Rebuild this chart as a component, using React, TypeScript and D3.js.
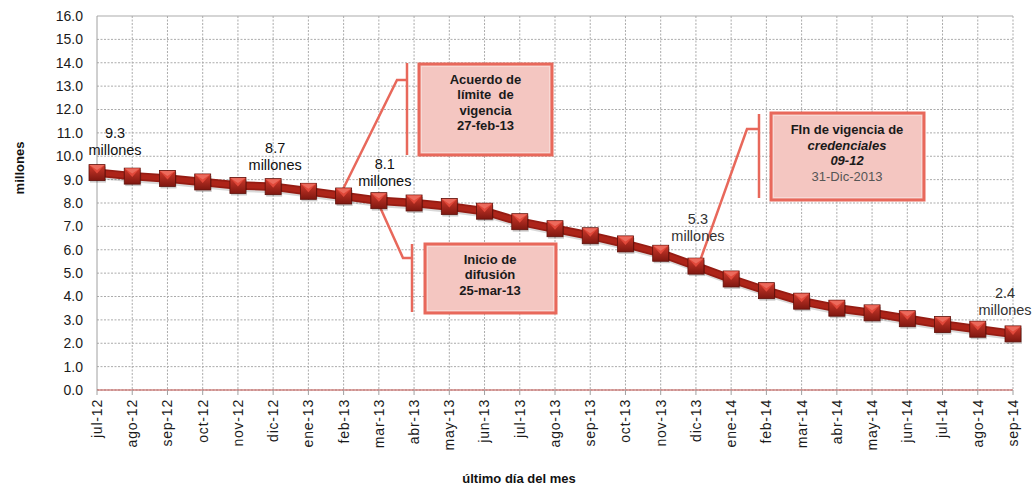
import * as d3 from 'd3';

const months = [
  'jul-12', 'ago-12', 'sep-12', 'oct-12', 'nov-12', 'dic-12', 'ene-13', 'feb-13', 'mar-13',
  'abr-13', 'may-13', 'jun-13', 'jul-13', 'ago-13', 'sep-13', 'oct-13', 'nov-13', 'dic-13',
  'ene-14', 'feb-14', 'mar-14', 'abr-14', 'may-14', 'jun-14', 'jul-14', 'ago-14', 'sep-14',
];
const values = [
  9.3, 9.15, 9.05, 8.9, 8.75, 8.7, 8.5, 8.3, 8.1,
  8.0, 7.85, 7.65, 7.2, 6.9, 6.6, 6.25, 5.85, 5.3,
  4.75, 4.25, 3.8, 3.5, 3.3, 3.05, 2.8, 2.6, 2.4,
];
const yTicks = d3.range(0, 17);
const labelledMonths = ['jul-12', 'dic-12', 'mar-13', 'dic-13', 'sep-14'];
const noteAcuerdo = ['Acuerdo de', 'límite  de', 'vigencia', '27-feb-13'];
const noteInicio = ['Inicio de', 'difusión', '25-mar-13'];
const noteFin = ['FIn de vigencia de', 'credenciales', '09-12', '31-Dic-2013'];

const W = 1034;
const H = 489;
const FONT = '"Liberation Sans", Arial, sans-serif';
const RED = '#e8685b';

// label offsets from the marker, in px
const labelOffset: Record<string, [number, number]> = {
  'jul-12': [18, -40],
  'dic-12': [2, -39],
  'mar-13': [6, -37],
  'dic-13': [2, -47],
  'sep-14': [-8, -41],
};

export default function App() {
  const x = d3.scalePoint<string>().domain(months).range([97, 1013]);
  const y = d3.scaleLinear().domain([0, 16]).range([390, 16]);
  const pts = months.map((m, i) => ({ m, v: values[i], px: x(m) as number, py: y(values[i]) }));
  const line = d3.line<typeof pts[0]>().x(d => d.px).y(d => d.py)(pts) ?? '';
  const byMonth = (m: string) => pts[months.indexOf(m)];

  const feb = byMonth('feb-13');
  const mar = byMonth('mar-13');
  const dic = byMonth('dic-13');

  return (
    <svg width={W} height={H} style={{ position: 'absolute', left: 0, top: 0, background: '#fff' }}
      fontFamily={FONT}>
      <defs>
        <linearGradient id="mk" x1="0" y1="0" x2="0" y2="1">
          <stop offset="0" stopColor="#d23a2c" />
          <stop offset="1" stopColor="#7e1710" />
        </linearGradient>
      </defs>

      {/* grid */}
      {yTicks.map(t => (
        <line key={'h' + t} x1={x(months[0])} x2={x(months[months.length - 1])} y1={y(t)} y2={y(t)}
          stroke="#ababab" strokeWidth={1} strokeDasharray={t === 16 ? undefined : '2,1.5'} />
      ))}
      {months.map((m, i) => i > 0 && (
        <line key={'v' + m} x1={x(m)} x2={x(m)} y1={y(16)} y2={y(0)}
          stroke="#ababab" strokeWidth={1} strokeDasharray="2,1.5" />
      ))}
      <line x1={x(months[0])} x2={x(months[0])} y1={y(16)} y2={y(0)} stroke="#a0a0a0" />
      <line x1={x(months[0])} x2={x(months[months.length - 1])} y1={y(0)} y2={y(0)} stroke="#c0504d" strokeWidth={1.2} />
      {months.map(m => (
        <line key={'t' + m} x1={x(m)} x2={x(m)} y1={y(0)} y2={y(0) + 5} stroke="#a0a0a0" />
      ))}

      {/* y ticks */}
      {yTicks.map(t => (
        <text key={'yl' + t} x={83} y={y(t)} dy="0.35em" textAnchor="end" fontSize={14} fill="#1a1a1a">
          {d3.format('.1f')(t)}
        </text>
      ))}
      {/* x ticks */}
      {months.map(m => (
        <text key={'xl' + m} transform={`translate(${x(m)},${y(0) + 9}) rotate(-90)`} dy="0.35em"
          textAnchor="end" fontSize={14} letterSpacing={0.8} fill="#1a1a1a">{m}</text>
      ))}

      <text transform="translate(19,168) rotate(-90)" textAnchor="middle" dy="0.35em" fontSize={13}
        fontWeight="bold" fill="#111">millones</text>
      <text x={519} y={478} dy="0.35em" textAnchor="middle" fontSize={13} fontWeight="bold" fill="#111">
        último día del mes
      </text>

      {/* callout connectors */}
      <g stroke={RED} strokeWidth={2.5} fill="none">
        <line x1={407} x2={407} y1={63} y2={155} />
        <polyline points={`${feb.px - 1},${feb.py - 6} 397,80 407,80`} />
        <line x1={412} x2={412} y1={244} y2={312} />
        <polyline points={`${mar.px + 1},${mar.py + 6} 403,258 412,258`} />
        <line x1={759} x2={759} y1={114} y2={198} />
        <polyline points={`${dic.px + 4},${dic.py - 5} 747,129 759,129`} />
      </g>

      {/* series line */}
      <path d={line} fill="none" stroke="#000" strokeOpacity={0.15} strokeWidth={8} transform="translate(1.5,2.5)" />
      <path d={line} fill="none" stroke="#951c13" strokeWidth={8.5} strokeLinejoin="round" />
      <path d={line} fill="none" stroke="#ad2419" strokeWidth={5} strokeLinejoin="round" />

      {/* markers */}
      {pts.map(p => (
        <g key={'mk' + p.m} transform={`translate(${p.px},${p.py})`}>
          <rect x={-7} y={-6} width={16} height={16} fill="#000" fillOpacity={0.2} />
          <rect x={-8} y={-8} width={16} height={16} fill="url(#mk)" stroke="#5e0f09" strokeWidth={0.8} />
          <polygon points="-7.5,-7.5 7.5,-7.5 0,1" fill="#e0483a" />
          <polygon points="-7.5,-7.5 7.5,-7.5 0,-2.5" fill="#ec6a5c" />
        </g>
      ))}

      {/* data labels */}
      {labelledMonths.map(m => {
        const p = byMonth(m);
        const [dx, dy] = labelOffset[m];
        const c = m === 'dic-13' || m === 'sep-14' ? '#333' : '#111';
        return (
          <g key={'lb' + m} fontSize={14.5} fill={c} textAnchor="middle">
            <text x={p.px + dx} y={p.py + dy} dy="0.35em">{d3.format('.1f')(p.v)}</text>
            <text x={p.px + dx} y={p.py + dy + 17} dy="0.35em">millones</text>
          </g>
        );
      })}

      {/* boxes */}
      <rect x={419} y={64} width={133} height={91} fill="#f4c6c1" stroke={RED} strokeWidth={3} />
      <rect x={421.5} y={66.5} width={128} height={86} fill="none" stroke="#f7d9d5" strokeWidth={1} />
      <g fontSize={13} fontWeight="bold" fill="#1a1a1a" textAnchor="middle">
        {noteAcuerdo.map((t, i) => (
          <text key={t} x={485.5} y={79 + i * 15.5} dy="0.35em" style={{ whiteSpace: 'pre' }}>{t}</text>
        ))}
      </g>

      <rect x={425} y={244} width={131} height={69} fill="#f4c6c1" stroke={RED} strokeWidth={3} />
      <rect x={427.5} y={246.5} width={126} height={64} fill="none" stroke="#f7d9d5" strokeWidth={1} />
      <g fontSize={13} fontWeight="bold" fill="#1a1a1a" textAnchor="middle">
        {noteInicio.map((t, i) => (
          <text key={t} x={490} y={259 + i * 15.5} dy="0.35em">{t}</text>
        ))}
      </g>

      <rect x={771} y={113} width={153} height={87} fill="#f4c6c1" stroke={RED} strokeWidth={3} />
      <rect x={773.5} y={115.5} width={148} height={82} fill="none" stroke="#f7d9d5" strokeWidth={1} />
      <g fontSize={13} fill="#1a1a1a" textAnchor="middle">
        <text x={847} y={129} dy="0.35em" fontWeight="bold">{noteFin[0]}</text>
        <text x={847} y={145} dy="0.35em" fontWeight="bold" fontStyle="italic">{noteFin[1]}</text>
        <text x={847} y={160.5} dy="0.35em" fontWeight="bold" fontStyle="italic">{noteFin[2]}</text>
        <text x={847} y={176} dy="0.35em" fill="#555">{noteFin[3]}</text>
      </g>
    </svg>
  );
}
